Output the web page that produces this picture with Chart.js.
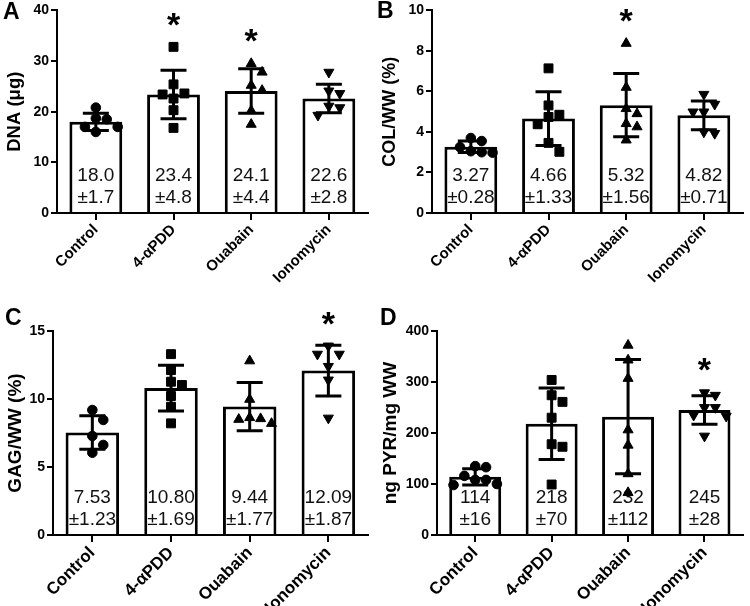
<!DOCTYPE html>
<html><head><meta charset="utf-8">
<script src="https://cdn.jsdelivr.net/npm/chart.js@4/dist/chart.umd.min.js"></script>
<style>
body{margin:0;background:#fff;width:750px;height:606px;position:relative;overflow:hidden;}
.p{position:absolute;width:375px;height:303px;}
</style></head><body>
<div class="p" style="left:0;top:0"><canvas id="cA" width="375" height="303"></canvas></div>
<div class="p" style="left:375px;top:0"><canvas id="cB" width="375" height="303"></canvas></div>
<div class="p" style="left:0;top:303px"><canvas id="cC" width="375" height="303"></canvas></div>
<div class="p" style="left:375px;top:303px"><canvas id="cD" width="375" height="303"></canvas></div>
<script>
const categories = ['Control', '4-αPDD', 'Ouabain', 'Ionomycin'];

// Panel A: DNA (µg)
const dnaPoints = [[18.7, 20.8, 17.0, 16.0, 17.0, 18.5], [32.8, 25.4, 23.6, 23.4, 22.6, 20.3, 16.8], [29.5, 27.8, 25.2, 24.2, 20.2, 17.5], [27.8, 23.6, 24.1, 21.1, 20.8, 19.3]];
const dnaMean = [18.0, 23.4, 24.1, 22.6];
const dnaSD = [1.7, 4.8, 4.4, 2.8];
const dnaSig = [false, true, true, false];
const dnaTicks = [0, 10, 20, 30, 40];

// Panel B: COL/WW (%)
const colPoints = [[3.55, 3.7, 3.05, 2.98, 3.0, 3.25], [7.14, 5.31, 4.85, 4.74, 4.38, 3.46, 3.02], [8.37, 6.2, 5.15, 4.9, 4.41, 4.25, 3.6], [5.86, 5.37, 4.99, 4.99, 3.93, 4.0]];
const colMean = [3.27, 4.66, 5.32, 4.82];
const colSD = [0.28, 1.33, 1.56, 0.71];
const colSig = [false, false, true, false];
const colTicks = [0, 2, 4, 6, 8, 10];

// Panel C: GAG/WW (%)
const gagPoints = [[9.19, 8.46, 7.28, 6.62, 6.05], [13.3, 12.13, 11.03, 11.27, 10.22, 9.43, 8.21], [12.8, 9.97, 8.55, 8.63, 8.5, 8.2], [13.9, 13.3, 13.3, 12.4, 11.4, 8.6]];
const gagMean = [7.53, 10.80, 9.44, 12.09];
const gagSD = [1.23, 1.69, 1.77, 1.87];
const gagSig = [false, false, false, true];
const gagTicks = [0, 5, 10, 15];

// Panel D: ng PYR/mg WW
const pyrPoints = [[135, 133, 108, 100, 98, 108, 116], [304, 274, 261, 230, 178, 173, 99], [372, 343, 307, 206, 176, 120, 83], [274, 279, 250, 250, 235, 233, 194]];
const pyrMean = [114, 218, 232, 245];
const pyrSD = [16, 70, 112, 28];
const pyrSig = [false, false, false, true];
const pyrTicks = [0, 100, 200, 300, 400];

const FONT = "'Liberation Sans', Arial, Helvetica, sans-serif";
Chart.defaults.font.family = FONT;
Chart.defaults.color = '#000';

const markerStyle = ['circle', 'rect', 'triangle', 'triangle'];
const markerRot = [0, 0, 0, 180];
const markerRad = [4.8, 6.3, 5.8, 5.8];

const panels = [
  {id:'cA', letter:'A', lx:3, ly:19, title:'DNA (μg)', pts:dnaPoints, mean:dnaMean, sd:dnaSD, sig:dnaSig, ticks:dnaTicks, dec:1, axisW:57, padTop:10, padRight:5, xH:90, xFont:15, tFont:18.5},
  {id:'cB', letter:'B', lx:2, ly:18, title:'COL/WW (%)', pts:colPoints, mean:colMean, sd:colSD, sig:colSig, ticks:colTicks, dec:2, axisW:57, padTop:10, padRight:3, xH:90, xFont:15, tFont:18},
  {id:'cC', letter:'C', lx:5, ly:22, title:'GAG/WW (%)', pts:gagPoints, mean:gagMean, sd:gagSD, sig:gagSig, ticks:gagTicks, dec:2, axisW:53, padTop:28, padRight:5, xH:71, xFont:17, tFont:19},
  {id:'cD', letter:'D', lx:5, ly:22, title:'ng PYR/mg WW', pts:pyrPoints, mean:pyrMean, sd:pyrSD, sig:pyrSig, ticks:pyrTicks, dec:0, axisW:62, padTop:28, padRight:3, xH:71, xFont:17, tFont:19}
];

// deterministic beeswarm: horizontal pixel offsets so markers don't overlap
function swarm(vals, pxPerUnit, D) {
  const order = vals.map((v, i) => i).sort((a, b) => vals[b] - vals[a]);
  const placed = [];
  const off = new Array(vals.length).fill(0);
  for (const i of order) {
    const y = vals[i] * pxPerUnit;
    for (let k = 0; k < 40; k++) {
      const c = k === 0 ? 0 : (k % 2 ? 1 : -1) * Math.ceil(k / 2) * D;
      const ok = placed.every(p => Math.hypot(p.x - c, p.y - y) >= D * 0.95);
      if (ok) { off[i] = c; placed.push({x: c, y}); break; }
    }
  }
  return off;
}

function makeChart(p) {
  const plotH = 303 - p.padTop - p.xH;
  const plotW = 375 - p.axisW - p.padRight;
  const catW = plotW / categories.length;
  const yMax = p.ticks[p.ticks.length - 1];
  const datasets = [{
    type: 'bar', data: p.mean, backgroundColor: '#fff', borderColor: '#000',
    borderWidth: 3, barPercentage: 0.68, categoryPercentage: 1, grouped: false, order: 10
  }];
  p.pts.forEach((vals, i) => {
    const offs = swarm(vals, plotH / yMax, 11);
    datasets.push({
      type: 'scatter', xAxisID: 'xs', order: 0,
      data: vals.map((v, k) => ({x: i + offs[k] / catW, y: v})),
      pointStyle: markerStyle[i], pointRotation: markerRot[i], pointRadius: markerRad[i],
      backgroundColor: '#000', borderColor: '#000', borderWidth: 1
    });
  });

  const overlay = {
    id: 'overlay',
    afterDatasetDraw(chart, args) {
      if (args.index !== 0) return;
      const ctx = chart.ctx, xs = chart.scales.x, ys = chart.scales.y;
      ctx.save();
      ctx.strokeStyle = '#000'; ctx.lineWidth = 3; ctx.lineCap = 'butt';
      p.mean.forEach((m, i) => {
        const x = xs.getPixelForValue(i);
        const yt = ys.getPixelForValue(m + p.sd[i]);
        const yb = ys.getPixelForValue(m - p.sd[i]);
        ctx.beginPath();
        ctx.moveTo(x, yt); ctx.lineTo(x, yb);
        ctx.moveTo(x - 13, yt); ctx.lineTo(x + 13, yt);
        ctx.moveTo(x - 13, yb); ctx.lineTo(x + 13, yb);
        ctx.stroke();
      });
      ctx.fillStyle = '#111';
      ctx.font = '19px ' + FONT;
      ctx.textAlign = 'center'; ctx.textBaseline = 'middle';
      const bottom = chart.chartArea.bottom;
      p.mean.forEach((m, i) => {
        const x = xs.getPixelForValue(i);
        ctx.fillText(m.toFixed(p.dec), x, bottom - 37);
        ctx.fillText('±' + p.sd[i].toFixed(p.dec), x, bottom - 15);
      });
      ctx.restore();
    },
    afterDatasetsDraw(chart) {
      const ctx = chart.ctx, xs = chart.scales.x, ys = chart.scales.y;
      ctx.save();
      ctx.fillStyle = '#000';
      ctx.textAlign = 'center'; ctx.textBaseline = 'alphabetic';
      const size = 34;
      ctx.font = 'bold ' + size + 'px ' + FONT;
      p.sig.forEach((s, i) => {
        if (!s) return;
        const x = xs.getPixelForValue(i);
        const top = ys.getPixelForValue(Math.max(...p.pts[i]));
        const cy = top - 31;
        ctx.fillText('*', x, cy + size * 0.58);
      });
      ctx.font = 'bold 23px ' + FONT;
      ctx.textAlign = 'left';
      ctx.fillText(p.letter, p.lx, p.ly);
      ctx.restore();
    }
  };

  new Chart(document.getElementById(p.id), {
    type: 'bar',
    data: {labels: categories, datasets},
    options: {
      responsive: false, animation: false, events: [],
      plugins: {legend: {display: false}, tooltip: {enabled: false}},
      layout: {padding: {top: p.padTop, right: p.padRight, left: 0, bottom: 0}},
      scales: {
        x: {
          type: 'category', offset: true,
          grid: {display: true, drawOnChartArea: false, drawTicks: true, tickLength: 7, offset: false, color: '#000', lineWidth: 2},
          border: {display: true, color: '#000', width: 2},
          ticks: {color: '#000', font: {size: p.xFont, weight: 'bold'}, maxRotation: 45, minRotation: 45, autoSkip: false, padding: 1},
          afterFit: s => { s.height = p.xH; }
        },
        xs: {type: 'linear', display: false, offset: false, grid: {offset: false}, min: -0.5, max: 3.5},
        y: {
          min: 0, max: yMax,
          afterBuildTicks: s => { s.ticks = p.ticks.map(v => ({value: v})); },
          ticks: {color: '#000', font: {size: 14, weight: 'bold'}, padding: 2},
          grid: {display: true, drawOnChartArea: false, drawTicks: true, tickLength: 6, color: '#000', lineWidth: 2},
          border: {display: true, color: '#000', width: 2},
          title: {display: true, text: p.title, color: '#000', font: {size: p.tFont, weight: 'bold'}, padding: {top: 4, bottom: 0}},
          afterFit: s => { s.width = p.axisW; }
        }
      }
    },
    plugins: [overlay]
  });
}

panels.forEach(makeChart);
</script>
</body></html>
